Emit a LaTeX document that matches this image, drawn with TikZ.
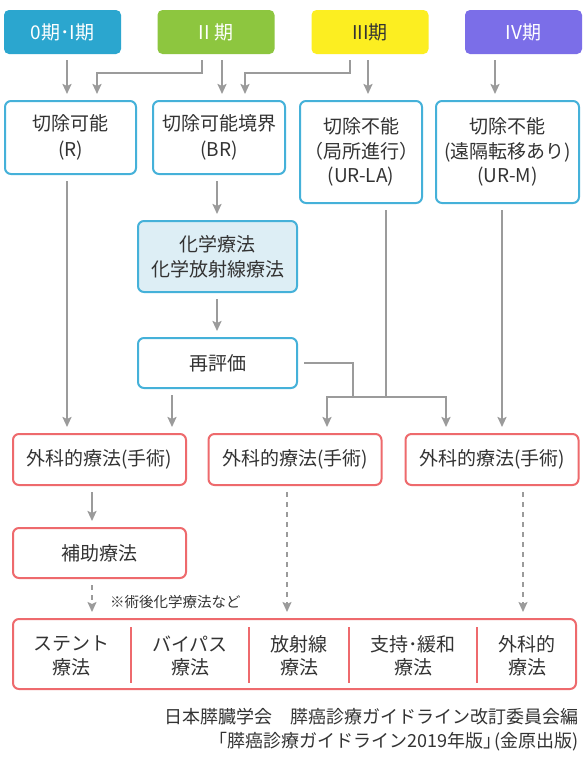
\documentclass[tikz,border=0pt]{standalone}
\usepackage{fontspec}
\setmainfont{Noto Sans CJK JP}
\usetikzlibrary{arrows.meta}

\definecolor{stageA}{HTML}{2BA6CF}
\definecolor{stageB}{HTML}{8DC63F}
\definecolor{stageC}{HTML}{FCEE21}
\definecolor{stageD}{HTML}{7B6EE8}
\definecolor{boxblue}{HTML}{45B1D9}
\definecolor{chemofill}{HTML}{DDEEF5}
\definecolor{boxred}{HTML}{EE6A6D}
\definecolor{linegray}{HTML}{9B9B9B}
\definecolor{txt}{HTML}{333333}

\tikzset{
  stage/.style={rounded corners=5pt, text=white, minimum width=117pt, minimum height=44pt, inner sep=0pt},
  bluebox/.style={draw=boxblue, line width=2pt, rounded corners=6pt, fill=white, text=txt, align=center, inner sep=0pt},
  redbox/.style={draw=boxred, line width=2pt, rounded corners=6pt, text=txt, align=center, inner sep=0pt},
  link/.style={draw=linegray, line width=2pt},
  arrow/.style={link, -{Stealth[width=9pt,length=10pt,inset=2pt]}, shorten >=6pt},
  fromgap/.style={shorten <=6pt},
  dashlink/.style={arrow, line width=1.6pt, dash pattern=on 5pt off 5pt},
}

\begin{document}
\begin{tikzpicture}[x=1pt, y=-1pt, font=\fontsize{19}{26}\selectfont]
    \useasboundingbox[fill=white] (0,0) rectangle (583,758);

    % Stage boxes
    \node[stage, fill=stageA] (st1) at (62.5,32) {0期･I期};
    \node[stage, fill=stageB] (st2) at (216,32) {II 期};
    \node[stage, fill=stageC, text=txt] (st3) at (370,32) {III期};
    \node[stage, fill=stageD] (st4) at (523.5,32) {IV期};

    % Resectability boxes
    \node[bluebox, minimum width=131pt, minimum height=73pt] (res) at (70.5,137.5) {切除可能\\(R)};
    \node[bluebox, minimum width=132pt, minimum height=73pt] (bres) at (219,137.5) {切除可能境界\\(BR)};
    \node[bluebox, minimum width=122pt, minimum height=102pt, font=\fontsize{19}{24.5}\selectfont] (urla) at (361,152) {切除不能\\（局所進行）\\(UR-LA)};
    \node[bluebox, minimum width=143pt, minimum height=102pt, font=\fontsize{19}{24.5}\selectfont] (urm) at (507.5,152) {切除不能\\(遠隔転移あり)\\(UR-M)};

    % Neoadjuvant and re-evaluation
    \node[bluebox, fill=chemofill, minimum width=159pt, minimum height=71pt, font=\fontsize{19}{25}\selectfont] (chemo) at (217.5,256.5) {化学療法\\化学放射線療法};
    \node[bluebox, minimum width=159pt, minimum height=50pt] (reval) at (217.5,363) {再評価};

    % Surgery boxes
    \foreach \x [count=\i] in {99.5,295,492}
        \node[redbox, minimum width=173pt, minimum height=51pt] (surg\i) at (\x,459.5) {外科的療法(手術)};
    \node[redbox, minimum width=173pt, minimum height=50pt] (adj) at (99.5,553) {補助療法};

    % Options box
    \node[redbox, minimum width=563pt, minimum height=70pt] (opts) at (294.5,654) {};
    \foreach \x in {131,249,349,477}
        \draw[boxred, line width=2pt] (\x,627) -- (\x,683);
    \foreach \x/\txt [count=\i] in {71.5/ステント, 190/バイパス, 299/放射線, 413/支持･緩和, 527/外科的}
        \node[align=center, text=txt, font=\fontsize{19}{23.5}\selectfont] (opt\i) at (\x,656) {\txt\\療法};

    % Note and source
    \node[anchor=west, inner sep=0pt, text=txt, font=\fontsize{14.5}{18}\selectfont] (note) at (110,602) {※術後化学療法など};
    \node[anchor=east, inner sep=0pt, text=txt, font=\fontsize{18}{22}\selectfont] (cite1) at (579,717) {日本膵臓学会　膵癌診療ガイドライン改訂委員会編};
    \node[anchor=east, inner sep=0pt, text=txt, font=\fontsize{18}{22}\selectfont] (cite2) at (579,742) {「膵癌診療ガイドライン2019年版」\hspace{-0.4em}(金原出版)};

    % Stage to resectability
    \draw[arrow, fromgap] (st1.south -| 67,0) -- (res.north -| 67,0);
    \draw[arrow, fromgap] (st2.south -| 202,0) -- (202,73) -| (res.north -| 97,0);
    \draw[arrow, fromgap] (st2.south -| 222,0) -- (bres.north -| 222,0);
    \draw[arrow, fromgap] (st3.south -| 350,0) -- (350,73) -| (bres.north -| 245,0);
    \draw[arrow, fromgap] (st3.south -| 368,0) -- (urla.north -| 368,0);
    \draw[arrow, fromgap] (st4.south -| 495,0) -- (urm.north -| 495,0);

    % Resectability to treatment
    \draw[arrow, fromgap] (res.south -| 67,0) -- (surg1.north -| 67,0);
    \draw[arrow, fromgap] (bres.south -| 217,0) -- (chemo.north -| 217,0);
    \draw[arrow, fromgap] (chemo.south -| 217,0) -- (reval.north -| 217,0);
    \draw[arrow, fromgap] (reval.south -| 172,0) -- (surg1.north -| 172,0);
    \coordinate (join) at (386,397);
    \draw[link, fromgap] (reval.east) -| (353,397);
    \draw[link, fromgap] (urla.south -| join) -- (join);
    \draw[arrow] (join) -- (327,397) -- (surg2.north -| 327,0);
    \draw[arrow] (join) -| (surg3.north -| 446,0);
    \draw[arrow, fromgap] (urm.south -| 502,0) -- (surg3.north -| 502,0);

    % Surgery to follow-up
    \draw[arrow, fromgap] (surg1.south -| 92,0) -- (adj.north -| 92,0);
    \draw[dashlink, fromgap] (adj.south -| 92,0) -- (opts.north -| 92,0);
    \draw[dashlink, fromgap] (surg2.south -| 287,0) -- (opts.north -| 287,0);
    \draw[dashlink, fromgap] (surg3.south -| 523,0) -- (opts.north -| 523,0);
\end{tikzpicture}
\end{document}
